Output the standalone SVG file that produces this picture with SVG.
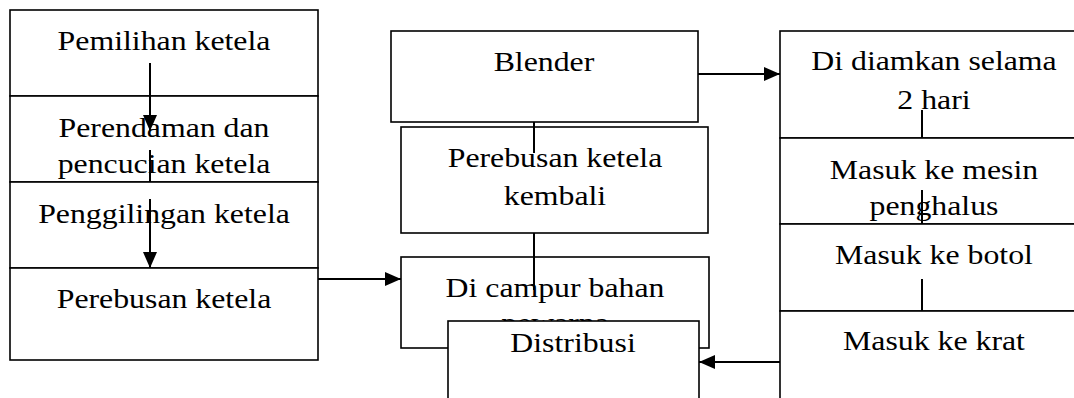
<svg xmlns="http://www.w3.org/2000/svg" width="1074" height="398" viewBox="0 0 1074 398">
<style>
.box{fill:#fff;stroke:#000;stroke-width:1.6}
.t{font-family:"Liberation Serif","Times New Roman",serif;font-size:26.5px;fill:#000;text-anchor:middle}
.ln{stroke:#000;stroke-width:2;fill:none}
.ar{stroke:#000;stroke-width:2;fill:none;marker-end:url(#ah)}
</style>
<defs>
<marker id="ah" markerWidth="8" markerHeight="7" refX="8" refY="3.5" orient="auto" markerUnits="strokeWidth">
<path d="M0,0 L8,3.5 L0,7 Z" fill="#000"/>
</marker>
</defs>
<rect width="1074" height="398" fill="#fff"/>
<g id="n-pemilihan">
<rect class="box" x="10" y="10" width="308" height="86"/>
<text class="t" transform="translate(164,0) scale(1.2,1)" x="0" y="50">Pemilihan ketela</text>
</g>
<g id="n-perendaman">
<rect class="box" x="10" y="96" width="308" height="86"/>
<text class="t" transform="translate(164,0) scale(1.2,1)" x="0" y="137">Perendaman dan</text>
<text class="t" transform="translate(164,0) scale(1.2,1)" x="0" y="173">pencucian ketela</text>
</g>
<g id="n-penggilingan">
<rect class="box" x="10" y="182" width="308" height="86"/>
<text class="t" transform="translate(164,0) scale(1.2,1)" x="0" y="223">Penggilingan ketela</text>
</g>
<g id="n-perebusan">
<rect class="box" x="10" y="268" width="308" height="92"/>
<text class="t" transform="translate(164,0) scale(1.2,1)" x="0" y="308">Perebusan ketela</text>
</g>
<g id="n-blender">
<rect class="box" x="391" y="31" width="307" height="91"/>
<text class="t" transform="translate(544,0) scale(1.2,1)" x="0" y="71">Blender</text>
</g>
<g id="n-perebusan-kembali">
<rect class="box" x="401" y="127" width="307" height="106"/>
<text class="t" transform="translate(555,0) scale(1.2,1)" x="0" y="167">Perebusan ketela</text>
<text class="t" transform="translate(555,0) scale(1.2,1)" x="0" y="205">kembali</text>
</g>
<g id="n-campur">
<rect class="box" x="401" y="257" width="308" height="91"/>
<text class="t" transform="translate(555,0) scale(1.2,1)" x="0" y="297">Di campur bahan</text>
<text class="t" transform="translate(555,0) scale(1.2,1)" x="0" y="332">pewarna</text>
</g>
<g id="n-distribusi">
<rect class="box" x="448" y="321" width="251" height="100"/>
<text class="t" transform="translate(573,0) scale(1.2,1)" x="0" y="352">Distribusi</text>
</g>
<g id="n-diamkan">
<rect class="box" x="780" y="31" width="310" height="107"/>
<text class="t" transform="translate(934,0) scale(1.2,1)" x="0" y="70">Di diamkan selama</text>
<text class="t" transform="translate(934,0) scale(1.2,1)" x="0" y="109">2 hari</text>
</g>
<g id="n-mesin">
<rect class="box" x="780" y="138" width="310" height="86"/>
<text class="t" transform="translate(934,0) scale(1.2,1)" x="0" y="179">Masuk ke mesin</text>
<text class="t" transform="translate(934,0) scale(1.2,1)" x="0" y="215">penghalus</text>
</g>
<g id="n-botol">
<rect class="box" x="780" y="224" width="310" height="87"/>
<text class="t" transform="translate(934,0) scale(1.2,1)" x="0" y="264">Masuk ke botol</text>
</g>
<g id="n-krat">
<rect class="box" x="780" y="311" width="310" height="110"/>
<text class="t" transform="translate(934,0) scale(1.2,1)" x="0" y="350">Masuk ke krat</text>
</g>
<g id="connectors">
<line class="ar" x1="150" y1="63" x2="150" y2="131"/>
<line class="ln" x1="150" y1="150" x2="150" y2="182"/>
<line class="ar" x1="150" y1="199" x2="150" y2="268"/>
<line class="ar" x1="318" y1="279" x2="401" y2="279"/>
<line class="ln" x1="534" y1="122" x2="534" y2="153"/>
<line class="ln" x1="534" y1="233" x2="534" y2="290"/>
<line class="ar" x1="698" y1="74" x2="780" y2="74"/>
<line class="ln" x1="922" y1="110" x2="922" y2="138"/>
<line class="ln" x1="922" y1="190" x2="922" y2="224"/>
<line class="ln" x1="922" y1="279" x2="922" y2="311"/>
<line class="ar" x1="780" y1="362" x2="699" y2="362"/>
</g>
</svg>
